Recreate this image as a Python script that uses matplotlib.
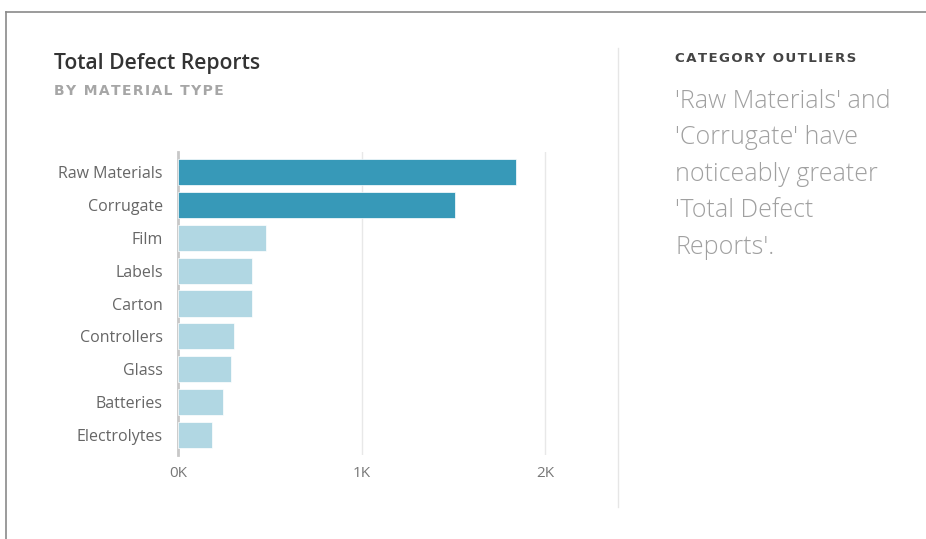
import matplotlib.pyplot as plt
from matplotlib.lines import Line2D
import numpy as np

categories = ['Raw Materials', 'Corrugate', 'Film', 'Labels', 'Carton',
              'Controllers', 'Glass', 'Batteries', 'Electrolytes']
defects = [1842, 1510, 480, 403, 403, 305, 289, 245, 185]
highlight = [True, True, False, False, False, False, False, False, False]
xticks = [0, 1000, 2000]
xtick_labels = ['0K', '1K', '2K']

W, H = 926, 539
fig = plt.figure(figsize=(W / 100, H / 100), dpi=100)
plt.rcParams['font.family'] = ['Open Sans', 'DejaVu Sans']


def spaced(s):
    # letter-spaced caps, like the dashboard headers
    return '\u200a'.join(s)


# frame lines of the screenshot
fig.add_artist(Line2D([6 / W, 1], [1 - 12 / H, 1 - 12 / H], color='#8a8a8a', lw=1.2,
                      transform=fig.transFigure))
fig.add_artist(Line2D([6 / W, 6 / W], [0, 1 - 12 / H], color='#8a8a8a', lw=1.2,
                      transform=fig.transFigure))
# separator
fig.add_artist(Line2D([618 / W, 618 / W], [1 - 507 / H, 1 - 48 / H], color='#e6e6e6', lw=1,
                      transform=fig.transFigure))

ax = fig.add_axes([178 / W, 1 - 455 / H, 369 / W, 303 / H])
y = np.arange(len(categories))
colors = ['#3799b8' if h else '#b1d7e3' for h in highlight]
ax.barh(y, defects, height=0.79, color=colors, edgecolor='white', linewidth=0.5, zorder=3)
ax.set_ylim(len(categories) - 0.4, -0.6)
ax.set_xlim(0, 2010)
ax.set_yticks(y)
ax.set_yticklabels(categories, fontsize=11.5, color='#666666')
ax.set_xticks(xticks)
ax.set_xticklabels(xtick_labels, fontsize=11, color='#777777')
ax.tick_params(axis='y', length=0, pad=11)
ax.tick_params(axis='x', length=0, pad=8)
for s in ['top', 'right', 'bottom']:
    ax.spines[s].set_visible(False)
ax.spines['left'].set_color('#c8c8c8')
ax.spines['left'].set_linewidth(2)
ax.grid(axis='x', color='#e8e8e8', linewidth=1, zorder=0)
ax.set_axisbelow(True)

fig.text(54 / W, 1 - 64 / H, 'Total Defect Reports', fontsize=15.2, fontweight='semibold',
         color='#333333', va='center', ha='left')
fig.text(54 / W, 1 - 91 / H, spaced('BY MATERIAL TYPE'), fontsize=10, fontweight='bold',
         family='DejaVu Sans', color='#a6a6a6', va='center', ha='left')

fig.text(675 / W, 1 - 58 / H, spaced('CATEGORY OUTLIERS'), fontsize=9.6, fontweight='bold',
         family='DejaVu Sans', color='#444444', va='center', ha='left')
body = ["'Raw Materials' and", "'Corrugate' have", "noticeably greater",
        "'Total Defect", "Reports'."]
for i, line in enumerate(body):
    fig.text(675 / W, 1 - (101 + 36.5 * i) / H, line, fontsize=18, fontweight='light',
             color='#a0a0a0', va='center', ha='left')

fig.savefig('out.png', dpi=100)
